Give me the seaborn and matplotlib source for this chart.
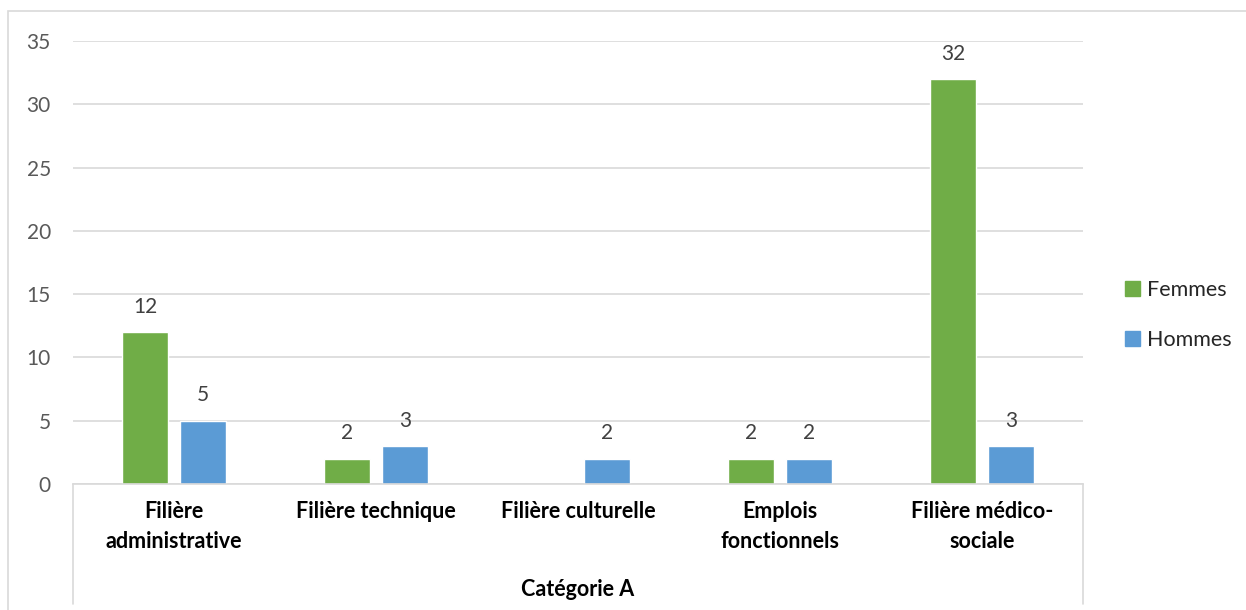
import numpy as np
import pandas as pd
import matplotlib
matplotlib.use("Agg")
import matplotlib.pyplot as plt
import seaborn as sns
from matplotlib.lines import Line2D
from matplotlib.patches import Rectangle

categories = ["Filière\nadministrative", "Filière technique", "Filière culturelle",
              "Emplois\nfonctionnels", "Filière médico-\nsociale"]
femmes = [12, 2, np.nan, 2, 32]
hommes = [5, 3, 2, 2, 3]
series = ["Femmes", "Hommes"]
group_label = "Catégorie A"
y_ticks = [0, 5, 10, 15, 20, 25, 30, 35]

df = pd.DataFrame({
    "categorie": categories * 2,
    "serie": [series[0]] * len(categories) + [series[1]] * len(categories),
    "valeur": femmes + hommes,
})

sns.set_theme(style="white")
plt.rcParams["font.family"] = ["Lato", "DejaVu Sans"]

fig = plt.figure(figsize=(12.46, 6.10), dpi=100)
fig.patches.append(Rectangle((8 / 1246, -0.01), 1.0, 1 - 11 / 610 + 0.01,
                             transform=fig.transFigure, fill=False,
                             edgecolor="#d9d9d9", linewidth=1.2))

ax = fig.add_axes([73 / 1246, 1 - 484 / 610, (1083 - 73) / 1246, (484 - 41) / 610])
palette = {"Femmes": "#70AD47", "Hommes": "#5B9BD5"}
sns.barplot(data=df, x="categorie", y="valeur", hue="serie", order=categories,
            hue_order=series, palette=palette, width=0.576, gap=0.22,
            saturation=1, ax=ax, legend=False)

ax.set_ylim(0, 35)
ax.set_xlim(-0.5, len(categories) - 0.5)
ax.set_yticks(y_ticks)
ax.yaxis.grid(True, color="#d9d9d9", linewidth=1.2)
ax.set_axisbelow(True)
for side in ["top", "right", "left"]:
    ax.spines[side].set_visible(False)
ax.spines["bottom"].set_color("#d9d9d9")
ax.spines["bottom"].set_linewidth(1.2)
ax.tick_params(axis="y", length=0, labelsize=15, labelcolor="#595959", pad=16)
ax.tick_params(axis="x", length=0, labelsize=15.5, labelcolor="black", pad=12)
for lbl in ax.get_xticklabels():
    lbl.set_fontweight("bold")
    lbl.set_verticalalignment("top")
    lbl.set_linespacing(1.55)
ax.set_xlabel("")
ax.set_ylabel("")

for container in ax.containers:
    labels = ["" if np.isnan(v) else f"{int(v)}" for v in container.datavalues]
    ax.bar_label(container, labels=labels, padding=11, fontsize=15, color="#404040")

# Group separators of the two-level category axis
for xf in (73 / 1246, 1083 / 1246):
    fig.add_artist(Line2D([xf, xf], [1 - 484 / 610, 1 - 604 / 610],
                          transform=fig.transFigure, color="#d9d9d9", linewidth=1.2))
fig.text((73 + 1083) / 2 / 1246, 1 - 589 / 610, group_label, ha="center", va="center",
         fontsize=15.5, fontweight="bold", color="black")

handles = [Rectangle((0, 0), 1, 1, color=palette[s]) for s in series]
fig.legend(handles, series, loc="center left", bbox_to_anchor=(1116 / 1246, 1 - 315 / 610),
           frameon=False, fontsize=15.5, handlelength=0.7, handleheight=0.7,
           handletextpad=0.35, labelspacing=1.4, borderaxespad=0)

fig.savefig("out.png", dpi=100)
